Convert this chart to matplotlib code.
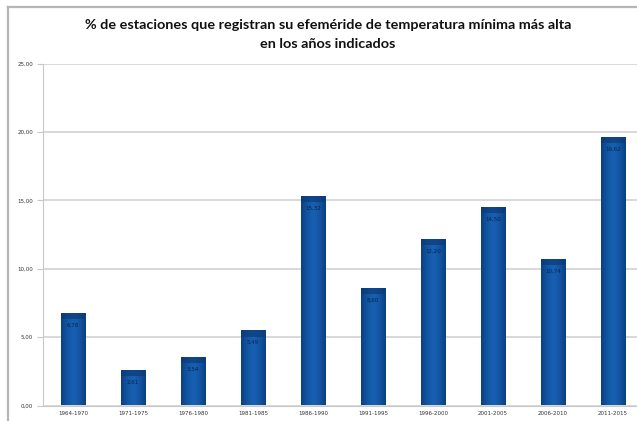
import matplotlib
matplotlib.use("Agg")
import matplotlib.pyplot as plt
import numpy as np
from matplotlib.patches import Rectangle

periods = ["1964-1970", "1971-1975", "1976-1980", "1981-1985", "1986-1990",
           "1991-1995", "1996-2000", "2001-2005", "2006-2010", "2011-2015"]
pct = [6.78, 2.61, 3.54, 5.49, 15.32, 8.60, 12.20, 14.50, 10.74, 19.62]
yticks = [0, 5, 10, 15, 20, 25]
title = ("% de estaciones que registran su efeméride de temperatura mínima más alta\n"
         "en los años indicados")

W, H = 637, 421
fig = plt.figure(figsize=(W / 100, H / 100), dpi=100)
fig.patch.set_facecolor("white")

# outer chart frame (top and left edges visible)
fig.add_artist(plt.Line2D([8 / W, 1], [1 - 7 / H, 1 - 7 / H], color="#b5b5b5", lw=1.6))
fig.add_artist(plt.Line2D([8 / W, 8 / W], [0, 1 - 7 / H], color="#b5b5b5", lw=1.6))

ax = fig.add_axes([43 / W, 1 - 405.5 / H, (W - 43) / W, (405.5 - 63.5) / H])
ax.set_xlim(-0.5, 9.4)
ax.set_ylim(0, 25)

for s in ["top", "right"]:
    ax.spines[s].set_visible(False)
ax.spines["left"].set_color("#c8c8c8")
ax.spines["bottom"].set_color("#c8c8c8")
ax.set_yticks(yticks)
ax.set_yticklabels([f"{v:.2f}".replace(".", ",") for v in yticks], fontsize=4, color="#333333")
ax.tick_params(axis="y", length=4, color="#c8c8c8", pad=3)
ax.set_xticks(range(len(periods)))
ax.set_xticklabels(periods, fontsize=4, color="#333333")
ax.tick_params(axis="x", length=0, pad=4)
ax.yaxis.grid(True, color="#d6d6d6", lw=1.3)
ax.set_axisbelow(True)

# horizontally shaded bars
bw = 0.41
shade = np.abs(np.linspace(-1, 1, 64)) ** 1.6
grad = np.array([matplotlib.colors.to_rgb("#175fb0")]) * (1 - shade[:, None]) + \
       np.array([matplotlib.colors.to_rgb("#0a3f82")]) * shade[:, None]
grad = grad[None, :, :]
for i, v in enumerate(pct):
    rect = Rectangle((i - bw / 2, 0), bw, v, facecolor="none", edgecolor="none")
    ax.add_patch(rect)
    im = ax.imshow(grad, extent=(i - bw / 2, i + bw / 2, 0, v), aspect="auto",
                   interpolation="bilinear", zorder=2)
    im.set_clip_path(rect)
    cap = Rectangle((i - bw / 2, v - 0.45), bw, 0.45, facecolor="#0b3772",
                    alpha=0.6, edgecolor="none", zorder=3)
    ax.add_patch(cap)
    ax.text(i, v - 0.9, f"{v:.2f}".replace(".", ","), ha="center", va="center",
            fontsize=4, color="#08234a", zorder=4)
ax.set_xlim(-0.5, 9.4)
ax.set_ylim(0, 25)

fig.text(328 / W, 1 - 34.5 / H, title, ha="center", va="center", fontsize=10.4,
         fontweight="bold", family="Lato", linespacing=1.75, color="#111111")

fig.savefig("out.png", dpi=100)
